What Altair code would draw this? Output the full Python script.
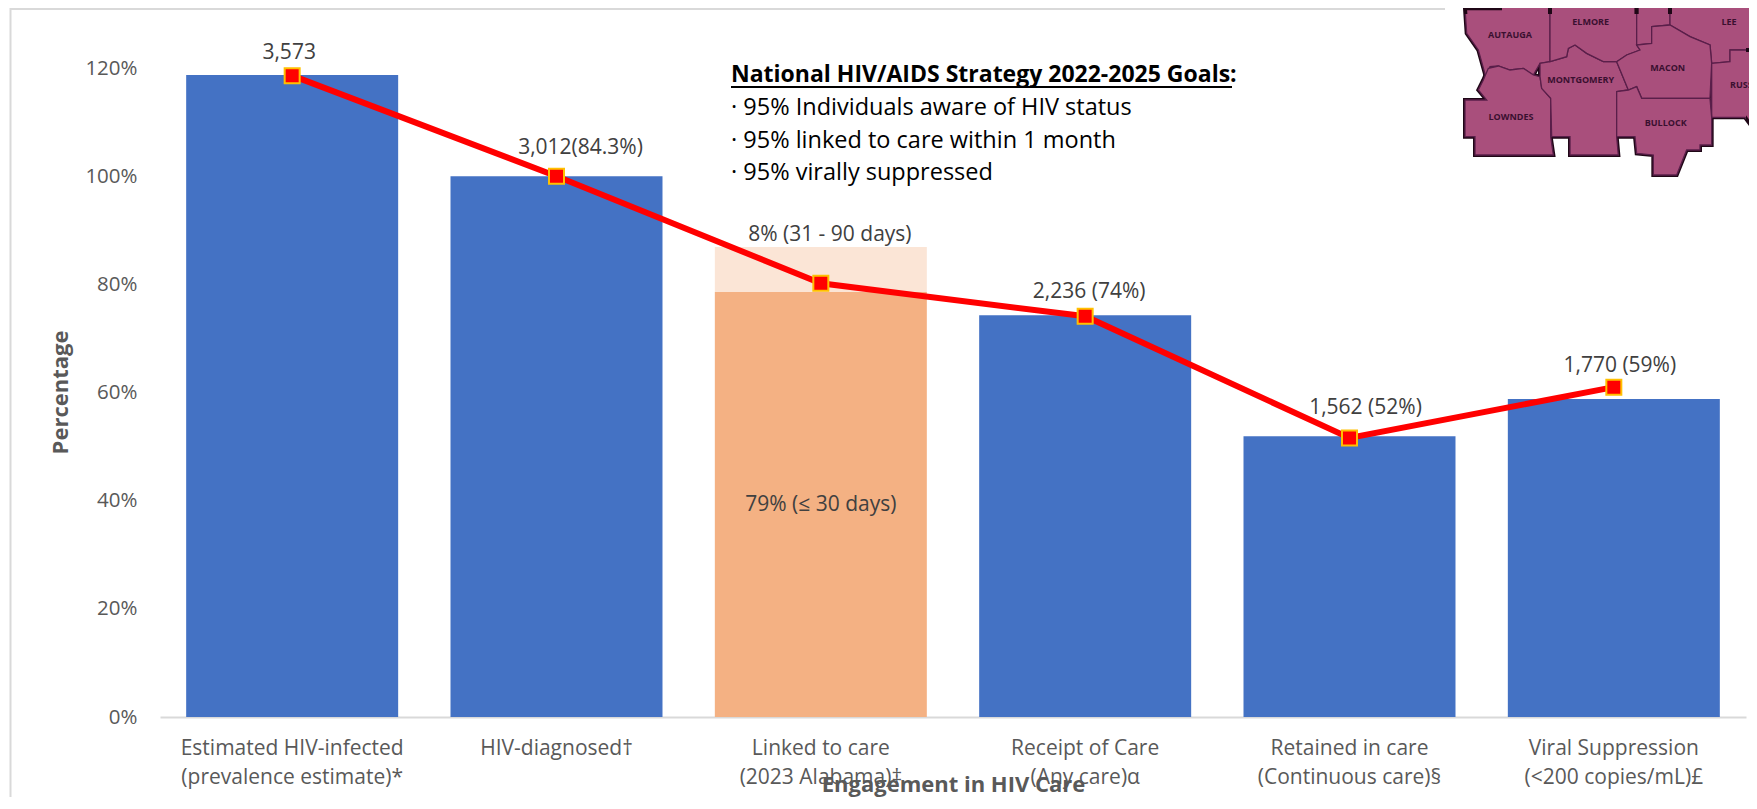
import altair as alt

FONT = "Open Sans"
categories = ["Estimated HIV-infected|(prevalence estimate)*", "HIV-diagnosed†", "Linked to care|(2023 Alabama)‡",
              "Receipt of Care|(Any care)α", "Retained in care|(Continuous care)§", "Viral Suppression|(<200 copies/mL)£"]
blue_cats = [categories[i] for i in (0, 1, 3, 4, 5)]
blue_vals = [118.7, 100.0, 74.3, 51.9, 58.8]
linked_30 = 78.6
linked_90 = 86.9
line_vals = [118.6, 100.0, 80.2, 74.1, 51.6, 61.0]
label_texts = ["3,573", "3,012(84.3%)", "8% (31 - 90 days)", "79% (≤ 30 days)", "2,236 (74%)", "1,562 (52%)", "1,770 (59%)"]
label_cats = [categories[i] for i in (0, 1, 2, 2, 3, 4, 5)]
label_vals = [118.6, 100.0, 86.9, 39.2, 74.1, 51.6, 61.0]
goal_title = "National HIV/AIDS Strategy 2022-2025 Goals:"
goal_lines = ["· 95% Individuals aware of HIV status", "· 95% linked to care within 1 month", "· 95% virally suppressed"]
counties = {
    "AUTAUGA": [(135,25),(240,25),(240,5),(390,5),(390,185),(360,190),(340,225),(310,205),(270,210),(235,198),(210,200),(200,240),(175,150),(140,100)],
    "LOWNDES": [(205,205),(235,198),(270,210),(310,205),(340,225),(360,230),(365,265),(392,295),(392,410),(400,465),(165,465),(165,410),(135,410),(135,300),(200,300),(175,270),(190,240)],
    "MONTGOMERY": [(360,190),(390,185),(440,170),(445,145),(465,135),(500,160),(550,185),(590,185),(625,270),(590,275),(590,410),(595,465),(450,465),(450,410),(395,410),(392,295),(365,265),(360,230)],
    "ELMORE": [(390,-30),(650,-30),(650,135),(660,150),(620,165),(590,185),(550,185),(500,160),(465,135),(445,145),(440,170),(390,185)],
    "TALLAPOOSA": [(650,-30),(750,-30),(750,75),(695,80),(695,130),(650,135)],
    "LEE": [(750,-30),(1040,-30),(1040,150),(930,150),(930,185),(875,190),(870,135),(810,110),(750,75)],
    "MACON": [(695,80),(750,75),(810,110),(870,135),(875,190),(870,295),(665,295),(650,260),(625,270),(590,185),(620,165),(660,150),(650,135),(695,130)],
    "RUSSELL": [(875,190),(930,185),(930,150),(1040,150),(1040,440),(975,352),(875,352)],
    "BULLOCK": [(590,275),(625,270),(650,260),(665,295),(870,295),(875,352),(875,435),(840,435),(840,450),(800,450),(770,525),(700,525),(700,465),(650,460),(645,410),(590,410)],
}
county_labels = [("AUTAUGA",270,105,"center"),("ELMORE",512,67,"center"),("LEE",927,65,"center"),("MACON",743,203,"center"),
                 ("MONTGOMERY",482,240,"center"),("RUSSELL",930,255,"left"),("LOWNDES",273,352,"center"),("BULLOCK",737,368,"center")]

W, H, LEFT, TOP = 1586, 703, 152, 6
ORIGIN_X, ORIGIN_Y = 160, 14   # plot origin in page pixels
xs = alt.Scale(domain=categories, paddingInner=0.198, paddingOuter=0.099)
ys = alt.Scale(domain=[0, 130], nice=False)
x_enc = alt.X("cat:N", scale=xs, sort=categories, axis=alt.Axis(
    title="Engagement in HIV Care", titleFont=FONT, titleFontSize=22, titleFontWeight="bold", titleColor="#595959",
    titleY=67, titleBaseline="middle",
    labelExpr="split(datum.label,'|')", labelAngle=0, labelFont=FONT, labelFontSize=21, labelColor="#595959",
    labelLineHeight=29, labelPadding=31, labelBaseline="middle", labelLimit=400,
    ticks=False, domainColor="#d9d9d9", domainWidth=2, grid=False))
y_enc = alt.Y("val:Q", scale=ys, axis=alt.Axis(
    title="Percentage", titleFont=FONT, titleFontSize=22, titleFontWeight="bold", titleColor="#595959",
    titleX=-100, titleY=378, titleAngle=270, titleBaseline="middle",
    values=[0, 20, 40, 60, 80, 100, 120], format=".0f", labelExpr="datum.label + '%'",
    labelFont=FONT, labelFontSize=20.5, labelColor="#595959", labelPadding=23,
    ticks=False, domain=False, grid=False))


def data(*rows):
    return alt.Data(values=list(rows))


def bars(cats, lows, highs, color):
    rows = [{"cat": c, "low": l, "val": h} for c, l, h in zip(cats, lows, highs)]
    return alt.Chart(data(*rows)).mark_bar(color=color).encode(x=x_enc, y=y_enc, y2=alt.Y2("low:Q"))


def free_text(text, px, py, size=20, color="#000000", weight="normal", align="left"):
    return alt.Chart(data({"t": text})).mark_text(
        font=FONT, fontSize=size, color=color, fontWeight=weight, align=align, baseline="middle"
    ).encode(text="t:N", x=alt.value(px - ORIGIN_X), y=alt.value(py - ORIGIN_Y))


def hline(x1, x2, py, color, width):
    return alt.Chart(data({"t": 1})).mark_rule(color=color, strokeWidth=width).encode(
        x=alt.value(x1 - ORIGIN_X), x2=alt.value(x2 - ORIGIN_X), y=alt.value(py - ORIGIN_Y))


def vline(px, y1, y2, color, width):
    return alt.Chart(data({"t": 1})).mark_rule(color=color, strokeWidth=width).encode(
        x=alt.value(px - ORIGIN_X), y=alt.value(y1 - ORIGIN_Y), y2=alt.value(y2 - ORIGIN_Y))


label_offsets = [(-3, -23), (24, -28), (9, -12), (0, 0), (4, -24), (16, -30), (6, -21)]
label_layers = []
for t, c, v, (dx, dy) in zip(label_texts, label_cats, label_vals, label_offsets):
    label_layers.append(alt.Chart(data({"cat": c, "val": v, "t": t})).mark_text(
        font=FONT, fontSize=21, color="#404040", dx=dx, dy=dy, baseline="middle"
    ).encode(x=x_enc, y=y_enc, text="t:N"))

geo = {"type": "FeatureCollection", "features": [
    {"type": "Feature", "properties": {"name": k},
     "geometry": {"type": "Polygon", "coordinates": [[list(p) for p in v] + [list(v[0])]]}}
    for k, v in counties.items()]}
proj = alt.Projection(type="identity", scale=1 / 3, translate=[1420 - ORIGIN_X, 0 - ORIGIN_Y])
map_data = alt.Data(values=geo, format=alt.DataFormat(type="json", property="features"))
map_back = alt.Chart(map_data).mark_geoshape(fill="#a94f7c", stroke="#1f0716", strokeWidth=4, clip=False).project(**proj.to_dict())
map_front = alt.Chart(map_data).mark_geoshape(fill="#a94f7c", stroke="#5a1f4a", strokeWidth=1.3).project(**proj.to_dict())
map_texts = [free_text(n, 1420 + zx / 3, zy / 3, size=9, color="#3a1030", weight="bold", align=a)
             for n, zx, zy, a in county_labels]

line_rows = [{"cat": c, "val": v} for c, v in zip(categories, line_vals)]
line = alt.Chart(data(*line_rows)).mark_line(color="#ff0000", strokeWidth=6).encode(x=x_enc, y=y_enc)
points = alt.Chart(data(*line_rows)).mark_square(size=225, fill="#ff0000", stroke="#ffc000", strokeWidth=2, opacity=1).encode(x=x_enc, y=y_enc)

goal_layers = [free_text(goal_title, 731, 75, size=23, weight="bold")]
goal_layers += [free_text(t, 731, py, size=23.5) for t, py in zip(goal_lines, [108, 141, 173])]

chart = alt.layer(
    hline(10, 1445, 9, "#d9d9d9", 2),
    vline(10.5, 8, 809, "#d9d9d9", 2),
    bars(blue_cats, [0] * 5, blue_vals, "#4472c4"),
    bars([categories[2]], [0], [linked_30], "#f4b183"),
    bars([categories[2]], [linked_30], [linked_90], "#fbe5d6"),
    line, points, *label_layers, *goal_layers,
    hline(731, 1232, 87, "#000000", 2),
    map_back, map_front, *map_texts,
).resolve_scale(x="shared", y="shared").properties(
    width=W, height=H,
    autosize=alt.AutoSizeParams(type="none", contains="content"),
    padding={"left": LEFT, "top": TOP, "right": 3, "bottom": 80},
    background="#ffffff",
).configure_view(stroke=None)

chart.save("out.html", embed_options={"renderer": "svg", "actions": False})
